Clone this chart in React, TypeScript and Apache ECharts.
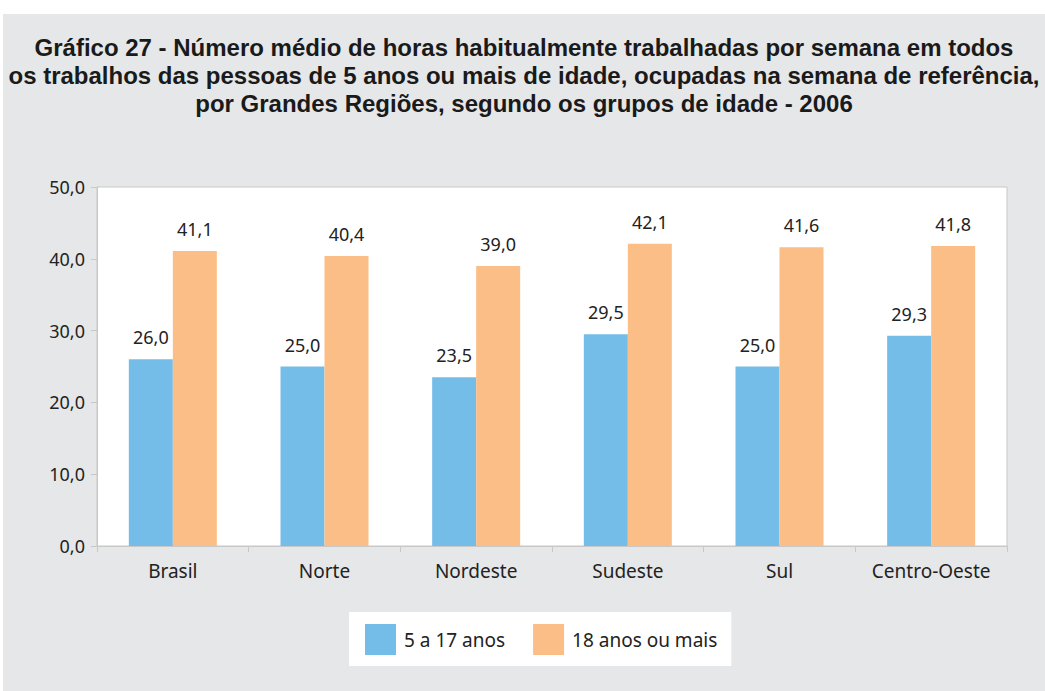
import React, { useEffect, useRef } from "react";
import * as echarts from "echarts";

const categories = ["Brasil", "Norte", "Nordeste", "Sudeste", "Sul", "Centro-Oeste"];
const seriesNames = ["5 a 17 anos", "18 anos ou mais"];
const young = [26.0, 25.0, 23.5, 29.5, 25.0, 29.3];
const adult = [41.1, 40.4, 39.0, 42.1, 41.6, 41.8];
const titleText =
  "Gráfico 27 - Número médio de horas habitualmente trabalhadas por semana em todos\nos trabalhos das pessoas de 5 anos ou mais de idade, ocupadas na semana de referência,\npor Grandes Regiões, segundo os grupos de idade - 2006";

const fmt = (v: number) => v.toFixed(1).replace(".", ",");
const FONT = "'Noto Sans', 'Liberation Sans', Arial, sans-serif";

export default function App() {
  const ref = useRef<HTMLDivElement>(null);
  useEffect(() => {
    document.body.style.margin = "0";
    const chart = echarts.init(ref.current!, undefined, { renderer: "svg" });
    chart.setOption({
      animation: false,
      backgroundColor: "#e6e7e8",
      textStyle: { fontFamily: FONT },
      title: {
        text: titleText,
        left: "center",
        top: 14,
        textStyle: {
          fontFamily: "'Liberation Sans', Arial, sans-serif",
          fontSize: 24,
          lineHeight: 28,
          fontWeight: "bold",
          color: "#1a1a1a",
        },
      },
      legend: {
        left: 346,
        top: 598,
        padding: [12, 14, 11, 16],
        itemWidth: 31,
        itemHeight: 31,
        itemGap: 28,
        backgroundColor: "#ffffff",
        icon: "rect",
        textStyle: { fontSize: 19, color: "#222", fontFamily: FONT, padding: [0, 0, 0, 3] },
        data: seriesNames,
      },
      grid: {
        left: 94,
        top: 173,
        right: 38,
        bottom: 145,
        show: true,
        backgroundColor: "#ffffff",
        borderColor: "#c8c8c8",
        borderWidth: 1,
      },
      xAxis: {
        type: "category",
        data: categories,
        axisLine: { lineStyle: { color: "#c8c8c8" } },
        axisTick: { show: true, length: 6, lineStyle: { color: "#c8c8c8" } },
        axisLabel: { interval: 0, fontSize: 19, color: "#222", margin: 15, fontFamily: FONT },
      },
      yAxis: {
        type: "value",
        min: 0,
        max: 50,
        interval: 10,
        axisLine: { show: true, lineStyle: { color: "#c8c8c8" } },
        axisTick: { show: true, length: 6, lineStyle: { color: "#c8c8c8" } },
        splitLine: { show: false },
        axisLabel: { fontSize: 18, color: "#222", margin: 12, formatter: (v: number) => fmt(v), fontFamily: FONT },
      },
      series: [
        {
          name: seriesNames[0],
          type: "bar",
          data: young,
          barWidth: 44,
          barGap: "0%",
          itemStyle: { color: "#74bde9" },
          label: { show: true, position: "top", distance: 13, fontSize: 18, color: "#222", formatter: (p: any) => fmt(p.value), fontFamily: FONT },
        },
        {
          name: seriesNames[1],
          type: "bar",
          data: adult,
          barWidth: 44,
          barGap: "0%",
          itemStyle: { color: "#fbbe87" },
          label: { show: true, position: "top", distance: 13, fontSize: 18, color: "#222", formatter: (p: any) => fmt(p.value), fontFamily: FONT },
        },
      ],
    });
    return () => chart.dispose();
  }, []);
  return (
    <div style={{ position: "relative", width: 1045, height: 691, background: "#fff" }}>
      <div ref={ref} style={{ position: "absolute", left: 3, top: 14, width: 1042, height: 677 }} />
    </div>
  );
}
